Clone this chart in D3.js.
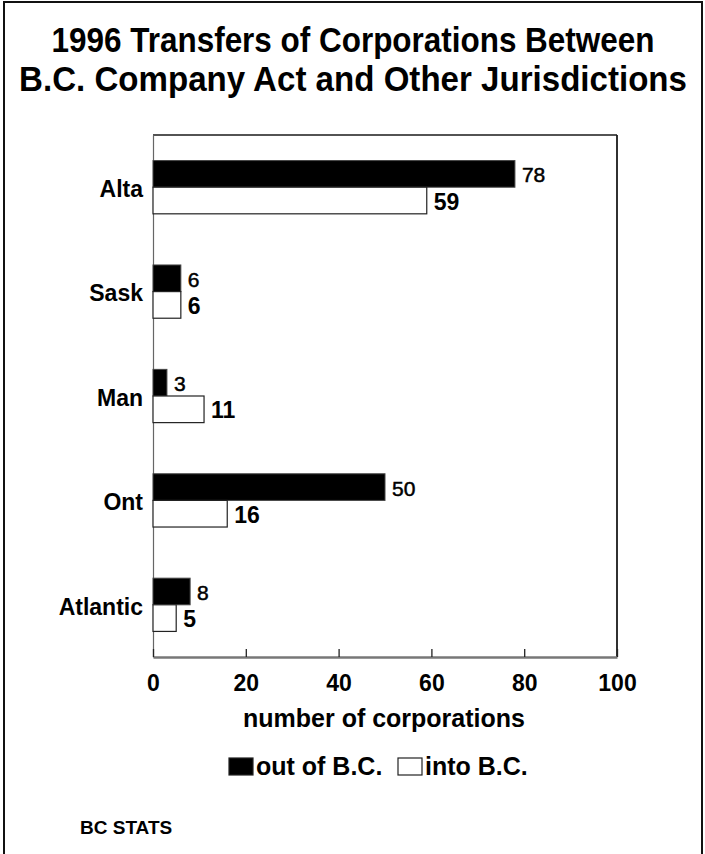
<!DOCTYPE html>
<html>
<head>
<meta charset="utf-8">
<script src="https://cdn.jsdelivr.net/npm/d3@7"></script>
<style>
  html, body { margin: 0; padding: 0; background: #fff; }
  svg { display: block; }
  text { font-family: "Liberation Sans", Arial, Helvetica, sans-serif; }
</style>
</head>
<body>
<svg id="chart" width="705" height="854"></svg>
<script>
// ---- data ----
const categories = ["Alta", "Sask", "Man", "Ont", "Atlantic"];
const outOfBC = [78, 6, 3, 50, 8];
const intoBC = [59, 6, 11, 16, 5];
const xTicks = [0, 20, 40, 60, 80, 100];
const seriesNames = ["out of B.C.", "into B.C."];
const titleLines = ["1996 Transfers of Corporations Between", "B.C. Company Act and Other Jurisdictions"];
const xAxisTitle = "number of corporations";
const sourceText = "BC STATS";

(function () {
// ---- layout ----
const svg = d3.select("#chart");
const pL = 153, pR = 617, pT = 135, pB = 657;

// outer border
svg.append("rect")
  .attr("x", 4).attr("y", 2).attr("width", 698).attr("height", 880)
  .attr("fill", "none").attr("stroke", "#111").attr("stroke-width", 2);

// title (condensed font look via horizontal scale)
const titleY = [52, 91];
const titleLen = [603, 668];
titleLines.forEach((t, i) => {
  const tg = svg.append("g");
  const tx = tg.append("text")
    .attr("x", 0).attr("y", 0)
    .attr("text-anchor", "middle")
    .attr("font-size", 34.5).attr("font-weight", "bold")
    .attr("fill", "#000")
    .text(t);
  const w = tx.node().getComputedTextLength() || titleLen[i];
  const sx = Math.min(1, titleLen[i] / w);
  tg.attr("transform", `translate(353,${titleY[i]}) scale(${sx},1)`);
});

const x = d3.scaleLinear().domain([0, 100]).range([pL, pR]);
const y = d3.scaleBand().domain(categories).range([pT, pB])
  .paddingInner(0.49).paddingOuter(0.245);
const bw = y.bandwidth() / 2;

// frame top and right
svg.append("line").attr("x1", pL).attr("x2", pR).attr("y1", pT).attr("y2", pT)
  .attr("stroke", "#1a1a1a").attr("stroke-width", 1.6);
svg.append("line").attr("x1", pR).attr("x2", pR).attr("y1", pT).attr("y2", pB)
  .attr("stroke", "#1a1a1a").attr("stroke-width", 1.8);

// left axis (categories)
const yAxis = svg.append("g").attr("transform", `translate(${pL},0)`)
  .call(d3.axisLeft(y).tickSize(0).tickPadding(10));
yAxis.select(".domain").attr("stroke", "#666").attr("stroke-width", 1.2);
yAxis.selectAll("text")
  .attr("font-size", 23).attr("font-weight", "bold").attr("fill", "#000")
  .attr("dy", "0.43em");

// bars
const rows = categories.map((c, i) => ({ c, out: outOfBC[i], into: intoBC[i] }));
const g = svg.append("g");
g.selectAll("rect.out").data(rows).join("rect")
  .attr("class", "out")
  .attr("x", x(0)).attr("y", d => y(d.c))
  .attr("width", d => x(d.out) - x(0)).attr("height", bw)
  .attr("fill", "#000").attr("stroke", "#444").attr("stroke-width", 1);
g.selectAll("rect.into").data(rows).join("rect")
  .attr("class", "into")
  .attr("x", x(0)).attr("y", d => y(d.c) + bw)
  .attr("width", d => x(d.into) - x(0)).attr("height", bw)
  .attr("fill", "#fff").attr("stroke", "#222").attr("stroke-width", 1.2);

// value labels
g.selectAll("text.outv").data(rows).join("text")
  .attr("class", "outv")
  .attr("x", d => x(d.out) + 7).attr("y", d => y(d.c) + bw / 2 + 8.5)
  .attr("font-size", 21).attr("fill", "#000")
  .attr("stroke", "#000").attr("stroke-width", 0.5)
  .text(d => d.out);
g.selectAll("text.intov").data(rows).join("text")
  .attr("class", "intov")
  .attr("x", d => x(d.into) + 7).attr("y", d => y(d.c) + bw * 1.5 + 9)
  .attr("font-size", 23).attr("font-weight", "bold").attr("fill", "#000")
  .text(d => d.into);

// bottom axis
const xAxis = svg.append("g").attr("transform", `translate(0,${pB})`)
  .call(d3.axisBottom(x).tickValues(xTicks).tickSizeInner(-8).tickSizeOuter(0).tickPadding(18));
xAxis.select(".domain").attr("stroke", "#777").attr("stroke-width", 2.6);
xAxis.selectAll(".tick line").attr("stroke", "#222").attr("stroke-width", 1.3);
xAxis.selectAll("text")
  .attr("font-size", 23).attr("font-weight", "bold").attr("fill", "#000");

// axis title
svg.append("text")
  .attr("x", 384).attr("y", 727)
  .attr("text-anchor", "middle")
  .attr("font-size", 25).attr("font-weight", "bold").attr("fill", "#000")
  .text(xAxisTitle);

// legend
const legendY = 758;
const legendItems = [
  { name: seriesNames[0], fill: "#000", x: 229 },
  { name: seriesNames[1], fill: "#fff", x: 398 }
];
legendItems.forEach(it => {
  svg.append("rect")
    .attr("x", it.x).attr("y", legendY).attr("width", 24).attr("height", 17)
    .attr("fill", it.fill).attr("stroke", "#222").attr("stroke-width", 1.2);
  svg.append("text")
    .attr("x", it.x + 27).attr("y", legendY + 17)
    .attr("font-size", 25).attr("font-weight", "bold").attr("fill", "#000")
    .text(it.name);
});

// source
svg.append("text")
  .attr("x", 80).attr("y", 834)
  .attr("font-size", 19).attr("font-weight", "bold").attr("fill", "#000")
  .text(sourceText);
})();
</script>
</body>
</html>
